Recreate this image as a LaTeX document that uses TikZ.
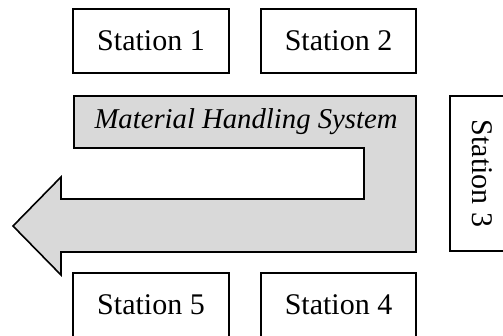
\documentclass[tikz,border=0pt]{standalone}
\usepackage{fontspec}
\setmainfont{Liberation Serif}
\begin{document}
\begin{tikzpicture}[x=1pt,y=-1pt,
  line width=1.6pt,
  station/.style={draw=black, rectangle, inner sep=0pt,
    font=\fontsize{30}{36}\selectfont},
  belt/.style={draw=black, fill=beltgray, line join=miter}]
\definecolor{beltgray}{HTML}{D9D9D9}
\useasboundingbox (0,0) rectangle (503,336);

% stations around the handling loop
\node[station, minimum width=156pt, minimum height=64pt] (s1) at (151,41) {Station 1};
\node[station, minimum width=155pt, minimum height=64pt] (s2) at (338.5,41) {Station 2};
\node[station, minimum width=156pt, minimum height=64pt] (s5) at (151,305) {Station 5};
\node[station, minimum width=155pt, minimum height=64pt] (s4) at (338.5,305) {Station 4};
\node[station, minimum width=155pt, minimum height=64pt, rotate=-90] (s3) at (482,173.5) {Station 3};

% U-shaped conveyor ending in an arrow head
\draw[belt] (74,96) -- (416,96) -- (416,252) -- (61,252) -- (61,275)
  -- (13,226) -- (61,177) -- (61,199) -- (364,199) -- (364,148)
  -- (74,148) -- cycle;
\node[font=\fontsize{28.7}{34}\selectfont\itshape] (mhs) at (246,122) {Material Handling System};
\end{tikzpicture}
\end{document}
